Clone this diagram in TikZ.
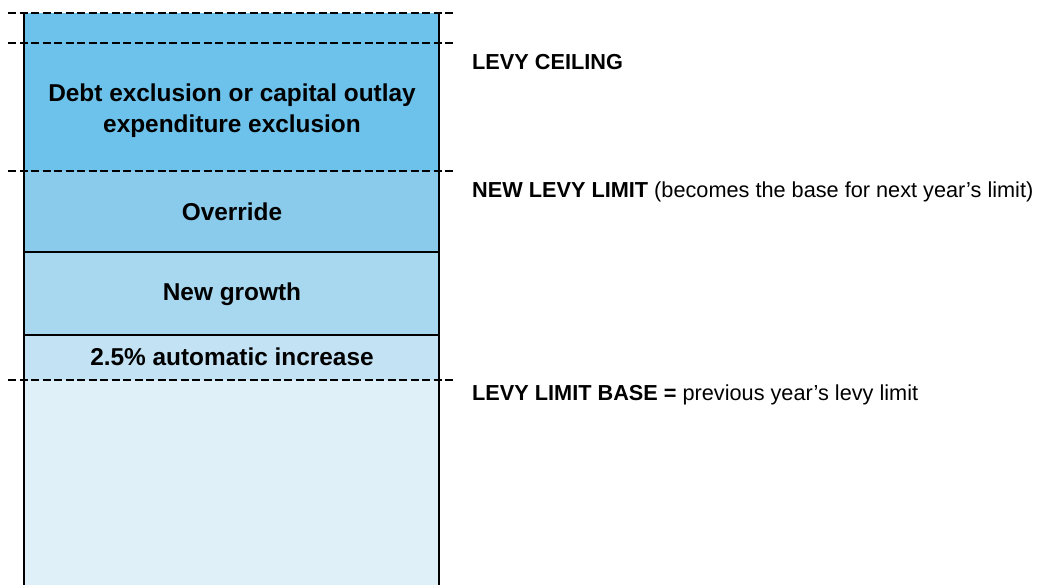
\documentclass[tikz,border=0pt]{standalone}
\usepackage{fontspec}
\setmainfont{Liberation Sans}
\definecolor{cA}{HTML}{6CC2EA}
\definecolor{cB}{HTML}{8ACBEC}
\definecolor{cC}{HTML}{A8D8F0}
\definecolor{cD}{HTML}{C3E2F4}
\definecolor{cE}{HTML}{DFF0F9}
\begin{document}
\begin{tikzpicture}[x=1pt,y=-1pt,
  region/.style={rectangle, inner sep=0pt, outer sep=0pt, minimum width=415pt, draw=none},
  boxtext/.style={font=\fontsize{24.4}{31}\selectfont\bfseries, align=center, inner sep=0pt},
  sidetext/.style={font=\fontsize{21.7}{26}\selectfont, anchor=west, inner sep=0pt},
  dashline/.style={line width=2pt, dash pattern=on 8pt off 3.5pt},
  solidline/.style={line width=2pt}
]
\useasboundingbox (0,0) rectangle (1040,585);
% fills
\node[region, fill=cA, minimum height=158pt, anchor=north west] (ra) at (24,13) {};
\node[region, fill=cB, minimum height=81pt, anchor=north west] (rb) at (24,171) {};
\node[region, fill=cC, minimum height=83pt, anchor=north west] (rc) at (24,252) {};
\node[region, fill=cD, minimum height=45pt, anchor=north west] (rd) at (24,335) {};
\node[region, fill=cE, minimum height=205pt, anchor=north west] (re) at (24,380) {};
% texts
\node[boxtext] (ta) at (232,110.5) {Debt exclusion or capital outlay\\expenditure exclusion};
\node[boxtext] (tb) at (232,212) {Override};
\node[boxtext] (tc) at (232,294) {New growth};
\node[boxtext] (td) at (232,357) {2.5\% automatic increase};
% solid separators
\draw[solidline] (rc.north west) -- (rc.north east);
\draw[solidline] (rd.north west) -- (rd.north east);
% verticals
\draw[solidline] (ra.north west) -- (re.south west);
\draw[solidline] (ra.north east) -- (re.south east);
% dashed lines
\coordinate (d1l) at (8,13);  \coordinate (d1r) at (455,13);
\coordinate (d2l) at (8,43);  \coordinate (d2r) at (455,43);
\coordinate (d3l) at (8,171); \coordinate (d3r) at (455,171);
\coordinate (d4l) at (8,380); \coordinate (d4r) at (455,380);
\draw[dashline] (d1l) -- (d1r);
\draw[dashline] (d2l) -- (d2r);
\draw[dashline] (d3l) -- (d3r);
\draw[dashline] (d4l) -- (d4r);
% side labels
\node[sidetext] (la) at (472,62) {\textbf{LEVY CEILING}};
\node[sidetext] (lb) at (472,192) {\textbf{NEW LEVY LIMIT} (becomes the base for next year’s limit)};
\node[sidetext] (lc) at (472,395) {\textbf{LEVY LIMIT BASE =} previous year’s levy limit};
\end{tikzpicture}
\end{document}
